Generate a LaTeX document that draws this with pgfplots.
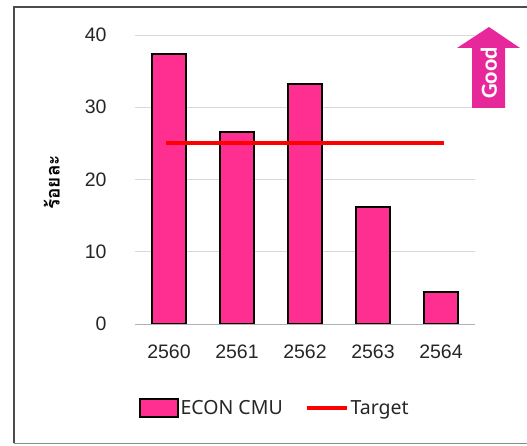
\documentclass[border=0pt]{standalone}
\usepackage{pgfplots}
\pgfplotsset{compat=1.18}
\usepackage{fontspec}
\setmainfont{Liberation Sans}
\newfontfamily\thaifont[Script=Thai]{Loma}
\newfontfamily\legfont{Noto Sans}
\newfontfamily\goodfont{Carlito}
\definecolor{barpink}{HTML}{FF2F92}
\definecolor{arrowpink}{HTML}{E6289A}
\definecolor{gridc}{HTML}{D9D9D9}
\begin{document}
\begin{tikzpicture}[x=1pt,y=1pt]
\path[use as bounding box] (0,0) rectangle (527,445);
\draw[line width=2pt,black!70] (14,2) -- (14,438) -- (527,438);
\draw[line width=1pt,black!45] (14,2) -- (527,2);
\begin{axis}[
  at={(135pt,121pt)},anchor=south west,
  scale only axis,width=340pt,height=289pt,
  xmin=-0.5,xmax=4.5,ymin=0,ymax=40,
  xtick={0,1,2,3,4},xticklabels={2560,2561,2562,2563,2564},
  ytick={0,10,20,30,40},
  ymajorgrids,grid style={gridc,line width=0.8pt},
  axis line style={draw=none},
  x axis line style={draw=none},
  tick style={draw=none},
  /pgf/number format/assume math mode=true,
  tick label style={font=\fontsize{19.5}{22}\selectfont,text=black!85},
  xticklabel style={yshift=-17pt},
  yticklabel style={xshift=-25pt},
  ylabel={\thaifont\bfseries ร้อยละ},
  ylabel style={font=\fontsize{19}{21}\selectfont,at={(axis description cs:-0.245,0.49)},anchor=center,rotate=0},
  legend columns=2,
  legend cell align=left,
  legend style={at={(0.01,-0.29)},anchor=west,draw=none,fill=none,
    font=\legfont\fontsize{19.5}{22}\selectfont,text=black!85,inner sep=0pt,
    /tikz/every even column/.append style={column sep=20pt}},
]
\addplot[ybar,bar width=34pt,bar shift=0pt,fill=barpink,draw=black,line width=2pt,
  area legend,
  legend image code/.code={\draw[fill=barpink,draw=black,line width=2pt] (-2pt,-9pt) rectangle (36pt,9pt);}]
  coordinates {(0,37.4) (1,26.6) (2,33.2) (3,16.2) (4,4.4)};
\addlegendentry{ECON CMU}
\addplot[red,line width=3.8pt,sharp plot,mark=none,
  legend image code/.code={\draw[red,line width=3.8pt] (0pt,0pt) -- (40pt,0pt);}]
  coordinates {(-0.04,25) (4.04,25)};
\addlegendentry{Target}
\draw[black!30,line width=0.8pt] (axis cs:-0.5,0) -- (axis cs:4.5,0);
\end{axis}
\fill[arrowpink] (472,337) -- (472,397) -- (457,397) -- (489,418) -- (520,397) -- (505,397) -- (505,337) -- cycle;
\node[rotate=90,text=white,font=\goodfont\fontsize{23}{25}\selectfont\bfseries] at (489,372) {Good};
\end{tikzpicture}
\end{document}
